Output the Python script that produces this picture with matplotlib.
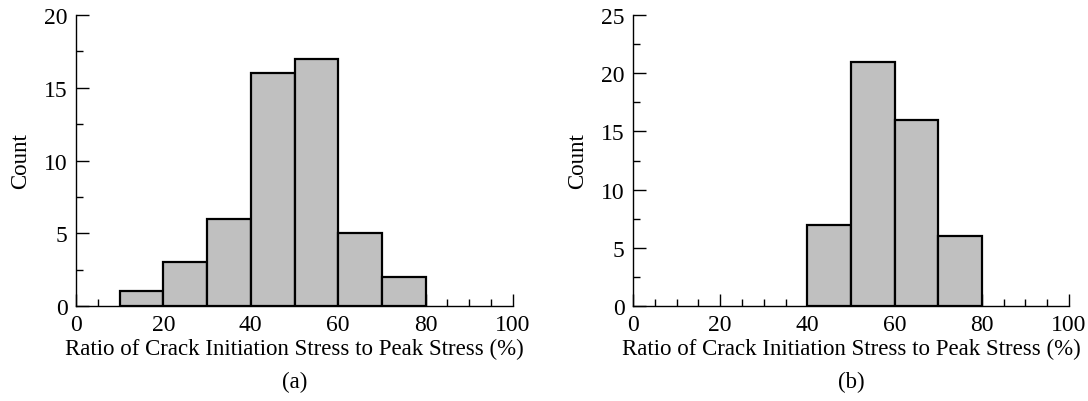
import matplotlib
matplotlib.use("Agg")
import matplotlib.pyplot as plt
from matplotlib.ticker import MultipleLocator

plt.rcParams['font.family'] = ['Liberation Serif', 'DejaVu Serif']
plt.rcParams['mathtext.fontset'] = 'stix'

bin_edges = [0, 10, 20, 30, 40, 50, 60, 70, 80, 90, 100]
counts_a = [0, 1, 3, 6, 16, 17, 5, 2, 0, 0]
counts_b = [0, 0, 0, 0, 7, 21, 16, 6, 0, 0]
ylims = [20, 25]
panel_labels = ["(a)", "(b)"]
xlabel = "Ratio of Crack Initiation Stress to Peak Stress (%)"
ylabel = "Count"

fig = plt.figure(figsize=(10.88, 4.02), dpi=100)
axes = [fig.add_axes([76/1088, 95/402, 437/1088, 291/402]),
        fig.add_axes([633/1088, 95/402, 436/1088, 291/402])]

for ax, counts, ymax, lab in zip(axes, [counts_a, counts_b], ylims, panel_labels):
    lefts = bin_edges[:-1]
    widths = [bin_edges[i+1] - bin_edges[i] for i in range(len(lefts))]
    xs, hs, ws = [], [], []
    for l, w, c in zip(lefts, widths, counts):
        if c > 0:
            xs.append(l); hs.append(c); ws.append(w)
    ax.bar(xs, hs, width=ws, align='edge', color='#c0c0c0', edgecolor='black',
           linewidth=1.6, zorder=2)
    ax.set_xlim(0, 100)
    ax.set_ylim(0, ymax)
    ax.spines['top'].set_visible(False)
    ax.spines['right'].set_visible(False)
    for s in ['left', 'bottom']:
        ax.spines[s].set_linewidth(1.0)
        ax.spines[s].set_zorder(3)
    ax.xaxis.set_major_locator(MultipleLocator(20))
    ax.xaxis.set_minor_locator(MultipleLocator(5))
    ax.yaxis.set_major_locator(MultipleLocator(5))
    ax.yaxis.set_minor_locator(MultipleLocator(2.5))
    ax.tick_params(which='both', direction='in', labelsize=17, width=1.0)
    ax.tick_params(which='major', length=9)
    ax.tick_params(which='minor', length=5)
    ax.tick_params(axis='x', pad=6)
    ax.tick_params(axis='y', pad=6)
    ax.set_xlabel(xlabel, fontsize=16.5, labelpad=2)
    ax.set_ylabel(ylabel, fontsize=16.5, labelpad=9)
    ax.text(0.5, -0.258, lab, transform=ax.transAxes, ha='center', va='center', fontsize=16.5)

fig.savefig("out.png", dpi=100)
